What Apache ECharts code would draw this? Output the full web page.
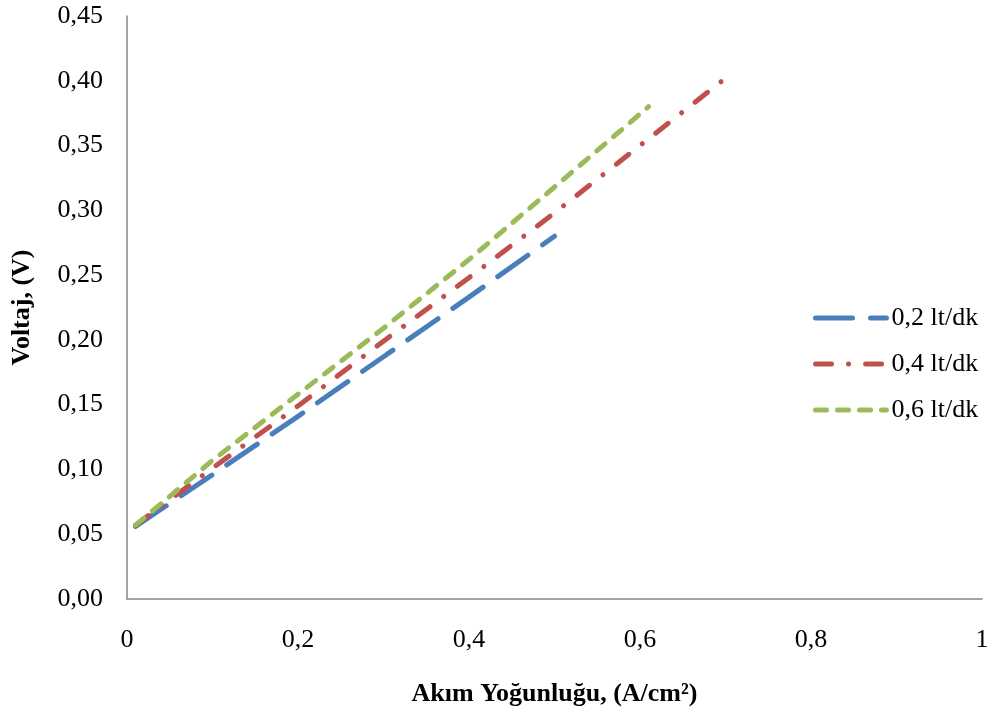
<!DOCTYPE html>
<html>
<head>
<meta charset="utf-8">
<script src="https://cdn.jsdelivr.net/npm/echarts@6/dist/echarts.min.js"></script>
<style>html,body{margin:0;padding:0;background:#fff}#c{width:992px;height:715px}</style>
</head>
<body>
<div id="c"></div>
<script>
const seriesNames = ['0,2 lt/dk', '0,4 lt/dk', '0,6 lt/dk'];
const x02 = [0.01, 0.1, 0.2, 0.3, 0.4, 0.5];
const y02 = [0.056, 0.096, 0.141, 0.187, 0.233, 0.280];
const x04 = [0.01, 0.1, 0.2, 0.3, 0.4, 0.5, 0.6, 0.7];
const y04 = [0.057, 0.101, 0.149, 0.199, 0.248, 0.298, 0.350, 0.402];
const x06 = [0.01, 0.1, 0.2, 0.3, 0.4, 0.5, 0.61];
const y06 = [0.057, 0.107, 0.158, 0.209, 0.262, 0.318, 0.380];

function pairs(xs, ys) { return xs.map((x, i) => [x, ys[i]]); }
const fmt = (v, d) => v.toFixed(d).replace('.', ',');

const colors = ['#4A7EBB', '#C0504D', '#9BBB59'];
const dashes = [[37, 18], [16, 17, 0.1, 17], [11, 11]];
const W = 5;

const chart = echarts.init(document.getElementById('c'), null, {renderer: 'canvas'});
const font = 'Liberation Serif, Times New Roman, serif';
chart.setOption({
  animation: false,
  backgroundColor: '#fff',
  grid: {left: 127, right: 10, top: 16, bottom: 116, containLabel: false},
  legend: {
    orient: 'vertical', left: 808, top: 300,
    itemWidth: 71, itemHeight: 20, itemGap: 20,
    itemStyle: {opacity: 0},
    textStyle: {fontFamily: font, fontSize: 26, color: '#000', padding: [0,0,0,0]},
    data: seriesNames.map((n, i) => ({
      name: n,
      lineStyle: {width: W, color: colors[i], type: dashes[i], cap: 'round'}
    }))
  },
  xAxis: {
    type: 'value', min: 0, max: 1, interval: 0.2,
    name: 'Akım Yoğunluğu, (A/cm²)', nameLocation: 'middle', nameGap: 82,
    nameTextStyle: {fontFamily: font, fontSize: 26, fontWeight: 'bold', color: '#000'},
    axisLine: {lineStyle: {color: '#868686', width: 1.5}},
    axisTick: {show: false},
    splitLine: {show: false},
    axisLabel: {fontFamily: font, fontSize: 26, color: '#000', margin: 28,
      formatter: v => v === 0 ? '0' : (v === 1 ? '1' : fmt(v, 1))}
  },
  yAxis: {
    type: 'value', min: 0, max: 0.45, interval: 0.05,
    name: 'Voltaj, (V)', nameLocation: 'middle', nameGap: 92, nameRotate: 90,
    nameTextStyle: {fontFamily: font, fontSize: 26, fontWeight: 'bold', color: '#000'},
    axisLine: {show: true, lineStyle: {color: '#868686', width: 1.5}},
    axisTick: {show: false},
    splitLine: {show: false},
    axisLabel: {fontFamily: font, fontSize: 26, color: '#000', margin: 24,
      formatter: v => fmt(v, 2)}
  },
  series: [
    {name: seriesNames[0], type: 'line', symbol: 'none', data: pairs(x02, y02),
     color: colors[0],
     lineStyle: {width: W, color: colors[0], type: dashes[0], cap: 'round', join: 'round'}},
    {name: seriesNames[1], type: 'line', symbol: 'none', data: pairs(x04, y04),
     color: colors[1],
     lineStyle: {width: W, color: colors[1], type: dashes[1], cap: 'round', join: 'round'}},
    {name: seriesNames[2], type: 'line', symbol: 'none', data: pairs(x06, y06),
     color: colors[2],
     lineStyle: {width: W, color: colors[2], type: dashes[2], cap: 'round', join: 'round'}}
  ]
});
</script>
</body>
</html>
